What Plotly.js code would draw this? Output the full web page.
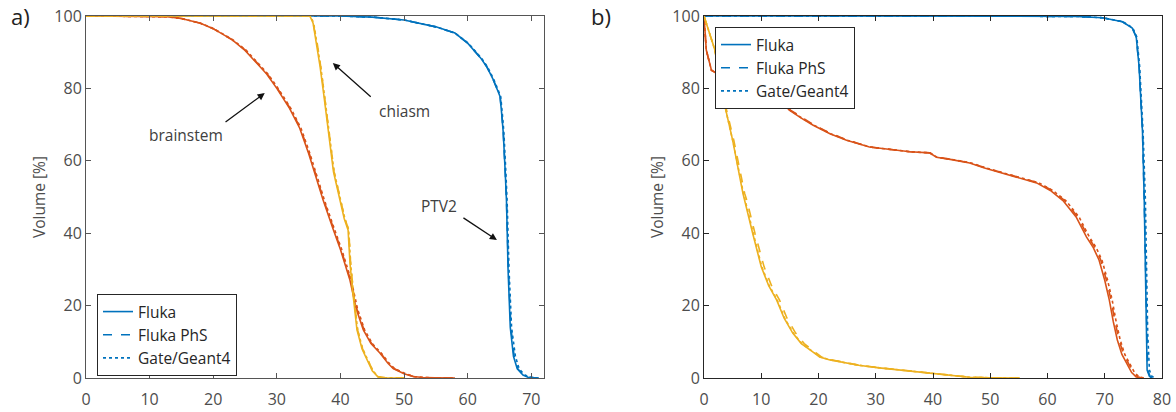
<!DOCTYPE html>
<html>
<head>
<meta charset="utf-8">
<script src="https://cdn.plot.ly/plotly-3.0.1.min.js"></script>
<style>html,body{margin:0;padding:0;background:#fff;}#chart{width:1176px;height:412px;}</style>
</head>
<body>
<div id="chart"></div>
<script>
// ---------- Panel a) ----------
const a_ptv_v = [100, 100, 99.7, 98.9, 97, 95.3, 92.5, 88.5, 86, 82.5, 79.5, 77.7, 72, 67.6, 57, 49, 30, 14, 6, 2.5, 0.8, 0.2, 0];
const a_ptv_fluka = [0, 40, 45, 50, 55, 58, 60, 62, 63, 64, 64.7, 65.1, 65.4, 65.6, 65.9, 66.1, 66.35, 66.7, 67.2, 67.8, 68.7, 69.5, 71];
const a_ptv_phs   = [0, 40, 45, 50, 55, 58, 60, 62, 63, 64, 64.7, 65.1, 65.4, 65.6, 65.9, 66.1, 66.4, 66.8, 67.3, 67.9, 68.8, 69.6, 71];
const a_ptv_gate  = [0, 40, 45, 50, 55, 58, 60.1, 62.1, 63.1, 64.1, 64.8, 65.2, 65.5, 65.7, 66, 66.2, 66.5, 66.9, 67.5, 68.1, 69, 69.9, 71.2];

const a_bs_v = [100, 100, 99.8, 99.3, 98, 96.5, 93.4, 90.5, 84, 80, 74.5, 69, 62, 54.7, 49, 40.9, 35.5, 27, 19, 13.3, 9.5, 6.9, 4, 2.6, 1.2, 0.4, 0.15, 0.05, 0];
const a_bs_fluka = [0, 10, 12.7, 15, 18, 20, 23, 25, 28.4, 30, 32, 33.6, 35, 36.3, 37.3, 38.9, 40, 41.5, 42.5, 43.6, 44.8, 46.2, 47.5, 48.3, 50, 51.4, 53, 55, 58];
const a_bs_phs   = [0, 10, 12.7, 15, 18, 20, 23, 25.1, 28.5, 30.1, 32.1, 33.7, 35.1, 36.4, 37.4, 39, 40.1, 41.6, 42.6, 43.7, 44.9, 46.3, 47.6, 48.4, 50.1, 51.5, 53, 55, 58];
const a_bs_gate  = [0, 10, 12.7, 15, 18, 20.1, 23.1, 25.2, 28.6, 30.2, 32.2, 33.8, 35.2, 36.5, 37.5, 39.1, 40.2, 41.7, 42.7, 43.8, 45, 46.4, 47.7, 48.5, 50.2, 51.6, 53.1, 55, 58];

const a_ch_v = [100, 100, 98, 93, 86, 78, 68, 57, 54.7, 49.2, 44, 40.9, 31.7, 24.3, 17.9, 13.3, 8, 5, 2, 0.3, 0.05, 0];
const a_ch_fluka = [0, 35.2, 35.7, 36.2, 36.8, 37.4, 38.1, 38.9, 39.2, 39.9, 40.6, 41.2, 41.5, 41.9, 42.3, 42.6, 43.4, 44.2, 45, 45.9, 47, 50];
const a_ch_phs   = [0, 35.2, 35.7, 36.3, 36.9, 37.5, 38.2, 39, 39.3, 40, 40.7, 41.3, 41.6, 42, 42.4, 42.7, 43.5, 44.3, 45.1, 46, 47, 50];
const a_ch_gate  = [0, 35.3, 35.8, 36.3, 36.9, 37.5, 38.2, 39, 39.3, 40, 40.7, 41.3, 41.6, 42, 42.4, 42.7, 43.5, 44.3, 45.1, 46, 47.1, 50];

// ---------- Panel b) ----------
const b_ptv_v = [100, 100, 99.9, 99.5, 99, 98.4, 96.7, 94.2, 86, 67.7, 49, 30, 12.4, 2.2, 0.5, 0];
const b_ptv_fluka = [0, 60, 65, 69.6, 71.5, 73.1, 74.8, 75.5, 76, 76.6, 76.9, 77.1, 77.2, 77.4, 77.8, 78.2];
const b_ptv_phs   = [0, 60, 65, 69.6, 71.5, 73.1, 74.8, 75.5, 76, 76.6, 76.9, 77.1, 77.3, 77.5, 77.9, 78.4];
const b_ptv_gate  = [0, 60, 65, 69.7, 71.6, 73.2, 74.9, 75.6, 76.1, 76.7, 77.1, 77.3, 77.5, 77.8, 78.2, 78.8];

const b_oar_v = [100, 90.6, 85, 83.7, 83, 82, 80.5, 78.5, 77, 74, 71.8, 69.9, 67.5, 65.7, 63.8, 63, 62.5, 62.2, 61, 60.4, 59.4, 58, 56.6, 55.2, 53.9, 51.8, 49, 44.5, 39, 36, 32.6, 27, 21.5, 15.5, 10.5, 6.5, 4.1, 1.5, 0.3, 0];
const b_oar_fluka = [0, 0.4, 1.3, 2.7, 5, 8, 10, 12, 13.2, 14.9, 17, 19, 22, 24.9, 28.9, 33, 36, 39.4, 40.6, 43, 46.4, 49, 52.2, 55, 58.1, 60.5, 62.7, 65, 66.8, 68, 69, 70, 70.8, 71.5, 72.2, 73, 73.8, 74.7, 75.5, 76.4];
const b_oar_phs   = [0, 0.4, 1.3, 2.7, 5, 8, 10, 12, 13.3, 15.1, 17.2, 19.2, 22.2, 25.1, 29, 33, 36, 39.4, 40.6, 43.1, 46.6, 49.2, 52.5, 55.3, 58.4, 60.8, 63, 65.3, 67.1, 68.3, 69.3, 70.3, 71.1, 71.8, 72.5, 73.3, 74.1, 75, 75.8, 76.7];
const b_oar_gate  = [0, 0.4, 1.3, 2.7, 5, 8, 10, 12, 13.2, 15, 17.1, 19.1, 22.1, 25, 29, 33, 36, 39.5, 40.7, 43.2, 46.7, 49.3, 52.6, 55.4, 58.5, 60.9, 63.2, 65.5, 67.3, 68.5, 69.5, 70.5, 71.3, 72, 72.7, 73.5, 74.3, 75.2, 76, 76.9];

const b_pi_v = [100, 95.3, 90.6, 77.6, 65.7, 51, 49, 40, 30.7, 25.5, 21.5, 16.5, 12.4, 9.5, 7.2, 5.8, 5, 4.1, 3.5, 2.8, 2.1, 1.4, 0.8, 0.2, 0.05, 0];
const b_pi_fluka = [0, 1, 1.9, 3.3, 5, 6.8, 7.1, 8.5, 10, 11.3, 12.7, 14, 15.5, 17, 19, 20.2, 22, 24.9, 27, 30.6, 35, 40, 43, 46.4, 50, 55.1];
const b_pi_phs   = [0, 1, 1.9, 3.4, 5.2, 7.1, 7.5, 8.9, 10.5, 11.8, 13.2, 14.5, 16, 17.5, 19.4, 20.5, 22.3, 25.1, 27.2, 30.8, 35.2, 40.2, 43.2, 46.6, 50.2, 55.2];
const b_pi_gate  = [0, 1, 1.9, 3.3, 5, 6.9, 7.2, 8.6, 10.1, 11.4, 12.8, 14.1, 15.6, 17.1, 19.1, 20.3, 22.1, 25, 27.1, 30.7, 35.1, 40.1, 43.1, 46.5, 50.1, 55.1];

const xTicks = [0, 10, 20, 30, 40, 50, 60, 70, 80];
const yTicks = [0, 20, 40, 60, 80, 100];
const legendNames = ['Fluka', 'Fluka PhS', 'Gate/Geant4'];
const BLUE = '#0072BD', RED = '#D95319', YEL = '#EDB120';
const DASHES = ['solid', 'dash', 'dot'];

const traces = [];
function addSet(xs, v, color, xa, ya, legendId) {
  xs.forEach((x, i) => {
    traces.push({
      x: x, y: v, type: 'scatter', mode: 'lines',
      xaxis: xa, yaxis: ya,
      name: legendNames[i],
      legend: legendId || 'legend',
      showlegend: !!legendId,
      line: {color: color, width: 1.6, dash: DASHES[i]},
      hoverinfo: 'skip'
    });
  });
}
addSet([a_ptv_fluka, a_ptv_phs, a_ptv_gate], a_ptv_v, BLUE, 'x', 'y', 'legend');
addSet([a_bs_fluka, a_bs_phs, a_bs_gate], a_bs_v, RED, 'x', 'y', null);
addSet([a_ch_fluka, a_ch_phs, a_ch_gate], a_ch_v, YEL, 'x', 'y', null);
addSet([b_ptv_fluka, b_ptv_phs, b_ptv_gate], b_ptv_v, BLUE, 'x2', 'y2', 'legend2');
addSet([b_oar_fluka, b_oar_phs, b_oar_gate], b_oar_v, RED, 'x2', 'y2', null);
addSet([b_pi_fluka, b_pi_phs, b_pi_gate], b_pi_v, YEL, 'x2', 'y2', null);

const FONT = 'Open Sans, Noto Sans, sans-serif';
const tickFont = {family: FONT, size: 16, color: '#4d4d4d'};
function xAxis(domain, range, lc) {
  return {domain: domain, range: range, tickvals: xTicks,
    ticks: 'inside', ticklen: 5, tickcolor: lc, mirror: 'ticks', showline: true,
    linecolor: lc, linewidth: 1, showgrid: false, zeroline: false, tickfont: tickFont,
    ticklabelstandoff: 7, fixedrange: true};
}
function yAxis(anchor, lc) {
  return {domain: [0, 1], range: [0, 100], tickvals: yTicks, anchor: anchor,
    ticks: 'inside', ticklen: 5, tickcolor: lc, mirror: 'ticks', showline: true,
    linecolor: lc, linewidth: 1, showgrid: false, zeroline: false, tickfont: tickFont,
    title: {text: 'Volume [%]', font: {family: FONT, size: 15.5, color: '#4d4d4d'}, standoff: 4},
    fixedrange: true};
}

const legendBase = {xanchor: 'left', yanchor: 'top', bgcolor: '#ffffff',
  bordercolor: '#262626', borderwidth: 1, font: {family: FONT, size: 15.5, color: '#262626'},
  tracegroupgap: 0};

const arrowStyle = {showarrow: true, arrowhead: 2, arrowsize: 1.1, arrowwidth: 1.3,
  arrowcolor: '#111', text: '', axref: 'x', ayref: 'y', standoff: 0, startstandoff: 0};
const labelFont = {family: FONT, size: 15.5, color: '#404040'};

const layout = {
  width: 1176, height: 412,
  margin: {l: 0, r: 0, t: 16, b: 34},
  paper_bgcolor: '#fff', plot_bgcolor: '#fff',
  xaxis: Object.assign(xAxis([86/1176, 544/1176], [0, 72], '#555'), {anchor: 'y'}),
  yaxis: yAxis('x', '#555'),
  xaxis2: Object.assign(xAxis([704/1176, 1162/1176], [0, 80], '#262626'), {anchor: 'y2'}),
  yaxis2: yAxis('x2', '#262626'),
  legend: Object.assign({}, legendBase, {x: 97/1176, y: (378-294)/362}),
  legend2: Object.assign({}, legendBase, {x: 715/1176, y: (378-27)/362}),
  showlegend: true,
  annotations: [
    {xref: 'paper', yref: 'paper', x: 9/1176, y: 1.0, xanchor: 'left', yanchor: 'middle',
     text: 'a)', showarrow: false, font: {family: FONT, size: 22, color: '#222'}},
    {xref: 'paper', yref: 'paper', x: 589/1176, y: 1.0, xanchor: 'left', yanchor: 'middle',
     text: 'b)', showarrow: false, font: {family: FONT, size: 22, color: '#222'}},
    Object.assign({}, arrowStyle, {xref: 'x', yref: 'y', x: 28.1, y: 78.7, ax: 21.7, ay: 70.4}),
    {xref: 'x', yref: 'y', x: 15.7, y: 67.1, text: 'brainstem', showarrow: false, font: labelFont},
    Object.assign({}, arrowStyle, {xref: 'x', yref: 'y', x: 38.8, y: 87, ax: 45, ay: 77.3}),
    {xref: 'x', yref: 'y', x: 50, y: 73.8, text: 'chiasm', showarrow: false, font: labelFont},
    Object.assign({}, arrowStyle, {xref: 'x', yref: 'y', x: 64.6, y: 38.1, ax: 59.1, ay: 44.5}),
    {xref: 'x', yref: 'y', x: 55.5, y: 47.4, text: 'PTV2', showarrow: false, font: labelFont}
  ]
};

Plotly.newPlot('chart', traces, layout, {displayModeBar: false, staticPlot: true});
</script>
</body>
</html>
